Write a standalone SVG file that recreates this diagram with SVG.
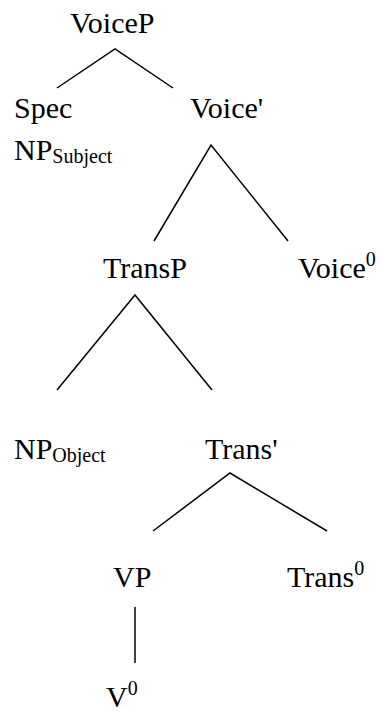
<svg xmlns="http://www.w3.org/2000/svg" width="386" height="715" viewBox="0 0 386 715">
  <style>
    .lbl { font-size: 30px; fill: #000; }
    .sub { font-size: 20px; }
    .edge { stroke: #000; stroke-width: 1.5; fill: none; stroke-linecap: butt; }
  </style>
  <rect width="386" height="715" fill="#fff"/>

  <!-- tree branches -->
  <g id="connectors">
    <polyline class="edge" points="57,88 115,49 173,88"/>
    <polyline class="edge" points="154,241 211,145 288,241"/>
    <polyline class="edge" points="57,390 135,295 212,390"/>
    <polyline class="edge" points="153,531 230,473 327,531"/>
    <line class="edge" x1="135" y1="607" x2="135" y2="663"/>
  </g>

  <!-- node labels -->
  <g font-family="Liberation Serif, Times New Roman, serif">
    <g id="voiceP"><text class="lbl" x="70" y="33">VoiceP</text></g>
    <g id="spec"><text class="lbl" x="14" y="118">Spec</text></g>
    <g id="np-subject"><text class="lbl" x="14" y="160">NP<tspan class="sub" dy="3">Subject</tspan></text></g>
    <g id="voice-bar"><text class="lbl" x="190" y="118">Voice'</text></g>
    <g id="transP"><text class="lbl" x="103" y="278">TransP</text></g>
    <g id="voice0"><text class="lbl" x="298" y="278">Voice<tspan class="sub" dy="-12">0</tspan></text></g>
    <g id="np-object"><text class="lbl" x="14" y="459">NP<tspan class="sub" dy="3">Object</tspan></text></g>
    <g id="trans-bar"><text class="lbl" x="205" y="459">Trans'</text></g>
    <g id="vp"><text class="lbl" x="113" y="587">VP</text></g>
    <g id="trans0"><text class="lbl" x="287" y="587">Trans<tspan class="sub" dy="-12">0</tspan></text></g>
    <g id="v0"><text class="lbl" x="106" y="707">V<tspan class="sub" dy="-12">0</tspan></text></g>
  </g>
</svg>
